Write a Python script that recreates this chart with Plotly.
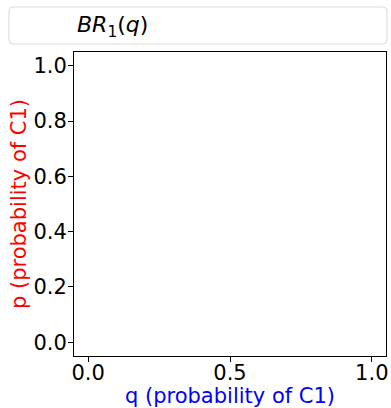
import plotly.graph_objects as go

# Data: the reference shows an empty axes with only a legend entry
q_values = [None]
br1_values = [None]
legend_name = "<i>BR</i><sub>1</sub>(<i>q</i>)"
x_ticks = [0.0, 0.5, 1.0]
x_tick_labels = ["0.0", "0.5", "1.0"]
y_ticks = [0.0, 0.2, 0.4, 0.6, 0.8, 1.0]
y_tick_labels = ["0.0", "0.2", "0.4", "0.6", "0.8", "1.0"]

W, H = 391, 408
L, R, T, B = 74, 5, 52, 52
pw, ph = W - L - R, H - T - B

def px_x(p):
    return (p - L) / pw

def px_y(p):
    return (H - B - p) / ph

FONT = "DejaVu Sans"
fig = go.Figure()
fig.add_trace(go.Scatter(x=q_values, y=br1_values, mode="lines", name=legend_name,
                         line=dict(color="rgba(0,0,0,0)"), showlegend=True))

# rounded legend frame
x0, x1, y0, y1 = 9, 387, 7, 44
r = 4
rx, ry = r / pw, r / ph
X0, X1, Y0, Y1 = px_x(x0), px_x(x1), px_y(y1), px_y(y0)
path = (f"M {X0+rx},{Y0} L {X1-rx},{Y0} Q {X1},{Y0} {X1},{Y0+ry} "
        f"L {X1},{Y1-ry} Q {X1},{Y1} {X1-rx},{Y1} L {X0+rx},{Y1} "
        f"Q {X0},{Y1} {X0},{Y1-ry} L {X0},{Y0+ry} Q {X0},{Y0} {X0+rx},{Y0} Z")
fig.add_shape(type="path", path=path, xref="paper", yref="paper",
              line=dict(color="#d9d9d9", width=1), fillcolor="rgba(255,255,255,0.8)", layer="below")

axis_common = dict(showline=True, linecolor="black", linewidth=1, mirror=True,
                   ticks="outside", ticklen=5, tickwidth=1, tickcolor="black",
                   showgrid=False, zeroline=False,
                   tickfont=dict(family=FONT, size=21, color="black"))
fig.update_xaxes(range=[-0.05, 1.05], tickvals=x_ticks, ticktext=x_tick_labels,
                 ticklabelstandoff=-7,
                 title=dict(text="q (probability of C1)", font=dict(family=FONT, size=21, color="blue"), standoff=3),
                 **axis_common)
fig.update_yaxes(range=[-0.05, 1.05], tickvals=y_ticks, ticktext=y_tick_labels,
                 ticklabelstandoff=-3,
                 title=dict(text="p (probability of C1)", font=dict(family=FONT, size=21, color="red"), standoff=1),
                 **axis_common)
fig.update_layout(width=W, height=H, margin=dict(l=L, r=R, t=T, b=B, autoexpand=False),
                  paper_bgcolor="white", plot_bgcolor="white",
                  showlegend=True,
                  legend=dict(x=px_x(37), y=px_y(24), xanchor="left", yanchor="middle",
                              bgcolor="rgba(0,0,0,0)", borderwidth=0,
                              font=dict(family=FONT, size=22, color="black")))
fig.write_html("out.html", config={"displayModeBar": False},
               post_script="document.body.style.margin='0';document.body.style.overflow='hidden';")
